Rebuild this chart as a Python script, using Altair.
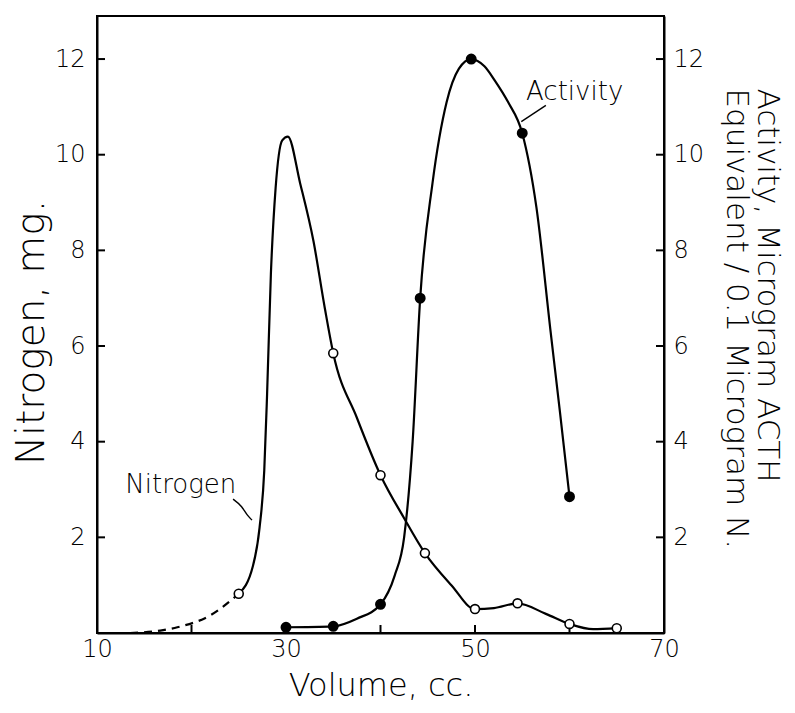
import altair as alt
import pandas as pd

# ---------------- data ----------------
x_domain = [10, 70]
y_domain = [0, 12.9]
x_labels = [10, 30, 50, 70]
x_ticks = [20, 30, 40, 50, 60]
y_labels = [2, 4, 6, 8, 10, 12]

# Nitrogen (open circles)
nit_x = [25, 35, 40, 44.7, 50, 54.5, 60, 65]
nit_y = [0.82, 5.85, 3.3, 1.67, 0.5, 0.62, 0.19, 0.1]
# Nitrogen curve (dashed part, then solid part)
nit_dash_x = [13.5, 16.7, 18.5, 22, 25]
nit_dash_y = [0.0, 0.05, 0.12, 0.37, 0.82]
nit_curve_x = [25, 26.5, 27.2, 27.7, 28.0, 28.4, 28.9, 29.6, 30.2, 31.5, 32.9, 34.1, 35,
               37.5, 40, 42.5, 44.7, 47.5, 50, 52, 54.5, 57.5, 60, 62.5, 65]
nit_curve_y = [0.82, 1.4, 2.2, 3.4, 5.0, 7.5, 9.3, 10.3, 10.38, 9.4, 8.2, 6.8, 5.85,
               4.5, 3.3, 2.4, 1.67, 1.0, 0.5, 0.52, 0.62, 0.4, 0.19, 0.08, 0.1]

# Activity (filled circles)
act_x = [30, 35, 40, 44.2, 49.6, 55, 60]
act_y = [0.12, 0.14, 0.6, 7.0, 12.0, 10.45, 2.85]
act_curve_x = [30, 35, 37.5, 40, 41.5, 42.5, 43.4, 44.2, 45.5, 47.0, 48.3, 49.6, 51,
               52.1, 53.5, 55, 56.5, 58, 59, 60]
act_curve_y = [0.12, 0.14, 0.3, 0.6, 1.2, 2.0, 4.0, 7.0, 9.4, 11.1, 11.8, 12.0, 11.85,
               11.55, 11.1, 10.45, 8.9, 6.3, 4.6, 2.85]

# annotations
nit_label = ["Nitrogen"]
nit_label_x = [13.0]
nit_label_y = [2.93]
nit_lead_x = [24.4, 25.3, 25.9, 26.4]
nit_lead_y = [2.80, 2.64, 2.47, 2.36]

act_label = ["Activity"]
act_label_x = [55.4]
act_label_y = [11.15]
act_lead_x = [57.5, 54.9]
act_lead_y = [11.03, 10.69]

FONT = "DejaVu Sans"
FW = 300
W, H = 567, 617

# ---------------- scales / axes ----------------
xscale = alt.Scale(domain=x_domain, nice=False, zero=False)
yscale = alt.Scale(domain=y_domain, nice=False, zero=False)

x_axis = alt.Axis(values=x_labels, ticks=False, labelPadding=4, labelFontSize=24,
                  labelFlush=False, title="Volume, cc.", titleFontSize=32,
                  titleY=62, titleBaseline="alphabetic", grid=False)
left_axis = alt.Axis(values=y_labels, ticks=False, labelPadding=12, labelFontSize=24,
                     title="Nitrogen, mg.", titleFontSize=39, titleAngle=270,
                     titleX=-66, titleY=316, titleAlign="center",
                     titleBaseline="middle", grid=False)
right_axis = alt.Axis(orient="right", values=y_labels, ticks=False, labelPadding=9,
                      labelFontSize=24,
                      title=["Activity, Microgram ACTH", "Equivalent / 0.1 Microgram N."],
                      titleFontSize=31, titleLineHeight=31, titleAngle=90,
                      titleX=102, titleY=72, titleAlign="left",
                      titleBaseline="middle", grid=False)

X = alt.X("x:Q", scale=xscale, axis=x_axis)
YL = alt.Y("y:Q", scale=yscale, axis=left_axis)
YR = alt.Y("y:Q", scale=yscale, axis=right_axis)

def df(xs, ys):
    return pd.DataFrame({"x": xs, "y": ys})

# ---------------- nitrogen group (left axis) ----------------
nit_dash = alt.Chart(df(nit_dash_x, nit_dash_y)).mark_line(
    color="black", strokeWidth=2.2, strokeDash=[8, 6], interpolate="monotone"
).encode(x=X, y=YL)
nit_line = alt.Chart(df(nit_curve_x, nit_curve_y)).mark_line(
    color="black", strokeWidth=2.2, interpolate="monotone"
).encode(x=X, y=YL)
nit_pts = alt.Chart(df(nit_x, nit_y)).mark_point(
    shape="circle", size=80, filled=True, fill="white", stroke="black", strokeWidth=1.6,
    opacity=1
).encode(x=X, y=YL)
nit_text = alt.Chart(pd.DataFrame({"x": nit_label_x, "y": nit_label_y, "t": nit_label})).mark_text(
    align="left", baseline="alphabetic", font=FONT, fontSize=26, fontWeight=FW, color="black"
).encode(x=X, y=YL, text="t:N")
nit_lead_df = df(nit_lead_x, nit_lead_y)
nit_lead_df["o"] = range(len(nit_lead_x))
nit_lead = alt.Chart(nit_lead_df).mark_line(color="black", strokeWidth=1.4,
                                             interpolate="monotone").encode(
    x=X, y=YL, order="o:Q")
left_ticks = alt.Chart(pd.DataFrame({"y": y_labels})).mark_rule(
    color="black", strokeWidth=2).encode(y=YL, x=alt.value(0), x2=alt.value(8))
bottom_ticks = alt.Chart(pd.DataFrame({"x": x_ticks})).mark_rule(
    color="black", strokeWidth=2).encode(x=X, y=alt.value(H), y2=alt.value(H - 8))

nit_group = alt.layer(left_ticks, bottom_ticks, nit_dash, nit_line, nit_lead, nit_text, nit_pts)

# ---------------- activity group (right axis) ----------------
act_line = alt.Chart(df(act_curve_x, act_curve_y)).mark_line(
    color="black", strokeWidth=2.2, interpolate="monotone"
).encode(x=X, y=YR)
act_pts = alt.Chart(df(act_x, act_y)).mark_point(
    shape="circle", size=80, filled=True, fill="black", stroke="black", opacity=1
).encode(x=X, y=YR)
act_text = alt.Chart(pd.DataFrame({"x": act_label_x, "y": act_label_y, "t": act_label})).mark_text(
    align="left", baseline="alphabetic", font=FONT, fontSize=26, fontWeight=FW, color="black"
).encode(x=X, y=YR, text="t:N")
act_lead_df = df(act_lead_x, act_lead_y)
act_lead_df["o"] = range(len(act_lead_x))
act_lead = alt.Chart(act_lead_df).mark_line(color="black", strokeWidth=1.4).encode(
    x=X, y=YR, order="o:Q")
right_ticks = alt.Chart(pd.DataFrame({"y": y_labels})).mark_rule(
    color="black", strokeWidth=2).encode(y=YR, x=alt.value(W - 8), x2=alt.value(W))

act_group = alt.layer(right_ticks, act_line, act_lead, act_text, act_pts)

chart = alt.layer(nit_group, act_group).resolve_scale(y="independent").properties(
    width=W, height=H,
    padding={"left": 89, "top": 8, "right": 123, "bottom": 72},
    autosize=alt.AutoSizeParams(type="none"),
    background="white",
).configure_view(
    stroke="black", strokeWidth=2
).configure_axis(
    domainColor="black", domainWidth=2, labelColor="black", titleColor="black",
    labelFont=FONT, titleFont=FONT, titleFontWeight=FW, labelFontWeight=FW
)

chart.save("out.html", embed_options={"renderer": "svg", "actions": False})
